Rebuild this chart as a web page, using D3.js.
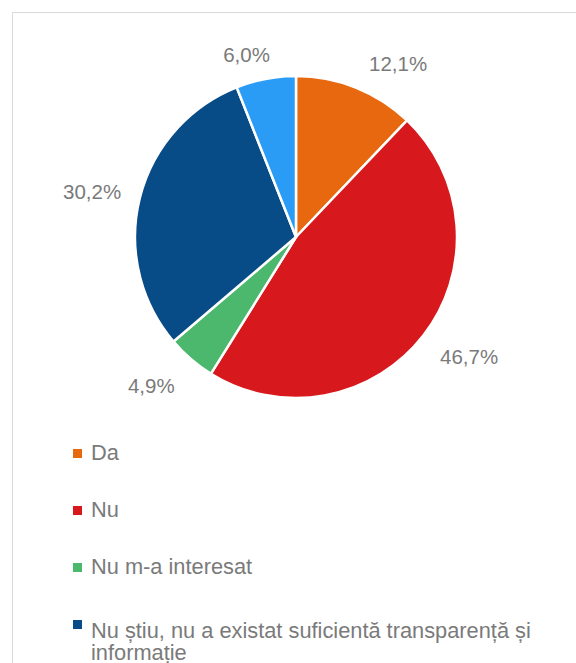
<!DOCTYPE html>
<html>
<head>
<meta charset="utf-8">
<script src="https://cdn.jsdelivr.net/npm/d3@7"></script>
<style>
  html, body { margin: 0; padding: 0; background: #fff; overflow: hidden; }
  svg { display: block; }
</style>
</head>
<body>
<svg id="chart" width="576" height="663"></svg>
<script>
// ---- Data ----
const categories = [
  "Da",
  "Nu",
  "Nu m-a interesat",
  "Nu știu, nu a existat suficientă transparență și informație",
  "Altceva"
];
const values = [12.1, 46.7, 4.9, 30.2, 6.0];
const valueLabels = ["12,1%", "46,7%", "4,9%", "30,2%", "6,0%"];
const colors = ["#E8680F", "#D7191E", "#4BB86D", "#074B87", "#2B9CF5"];

// ---- Layout ----
const W = 576, H = 663;
const cx = 296, cy = 237, R = 161;
const labelRadius = 205;
const labelNudge = [[26, 17], [11, -6], [-11, -7], [-5, 4], [-11, 19]];
const fontFamily = "'Liberation Sans', Arial, sans-serif";
const textColor = "#7a7a7a";

const svg = d3.select("#chart");

// frame
svg.append("rect")
  .attr("x", 12.5).attr("y", 12.5)
  .attr("width", 700).attr("height", 800)
  .attr("fill", "none")
  .attr("stroke", "#d9d9d9")
  .attr("stroke-width", 1);

const data = categories.map((c, i) => ({ name: c, value: values[i], label: valueLabels[i], color: colors[i], i }));

const pie = d3.pie().sort(null).value(d => d.value).startAngle(0).endAngle(2 * Math.PI);
const arcs = pie(data);
const arc = d3.arc().innerRadius(0).outerRadius(R);

const g = svg.append("g").attr("transform", `translate(${cx},${cy})`);

g.selectAll("path.slice")
  .data(arcs)
  .join("path")
  .attr("class", "slice")
  .attr("d", arc)
  .attr("fill", d => d.data.color)
  .attr("stroke", "#fff")
  .attr("stroke-width", 2.5)
  .attr("stroke-linejoin", "round");

g.selectAll("text.lbl")
  .data(arcs)
  .join("text")
  .attr("class", "lbl")
  .attr("x", d => {
    const a = (d.startAngle + d.endAngle) / 2;
    return labelRadius * Math.sin(a) + labelNudge[d.data.i][0];
  })
  .attr("y", d => {
    const a = (d.startAngle + d.endAngle) / 2;
    return -labelRadius * Math.cos(a) + labelNudge[d.data.i][1];
  })
  .attr("dy", "0.36em")
  .attr("text-anchor", "middle")
  .attr("font-family", fontFamily)
  .attr("font-size", 20.5)
  .attr("fill", textColor)
  .text(d => d.data.label);

// ---- Legend ----
const legendX = 73, textX = 91;
const firstCenter = 453.5, step = 57, lineH = 22.5, wrapW = 482;
const legend = svg.append("g");

let extra = 0;
data.forEach((d, i) => {
  const t = legend.append("text")
    .attr("x", textX)
    .attr("font-family", fontFamily)
    .attr("font-size", 21.8)
    .attr("fill", textColor);
  const words = d.name.split(" ");
  const lines = [];
  let cur = "";
  const probe = t.append("tspan");
  words.forEach(w => {
    const test = cur ? cur + " " + w : w;
    probe.text(test);
    if (probe.node().getComputedTextLength() > wrapW && cur) {
      lines.push(cur);
      cur = w;
    } else {
      cur = test;
    }
  });
  lines.push(cur);
  probe.remove();
  const center = firstCenter + step * i + extra;
  const baseline = center + 6.5 + (lines.length - 1) * 6.5;
  lines.forEach((ln, k) => {
    t.append("tspan").attr("x", textX).attr("y", baseline + k * lineH).text(ln);
  });
  legend.append("rect")
    .attr("x", legendX).attr("y", center - 4.5)
    .attr("width", 9).attr("height", 9)
    .attr("fill", d.color);
  extra += (lines.length - 1) * lineH;
});
</script>
</body>
</html>
